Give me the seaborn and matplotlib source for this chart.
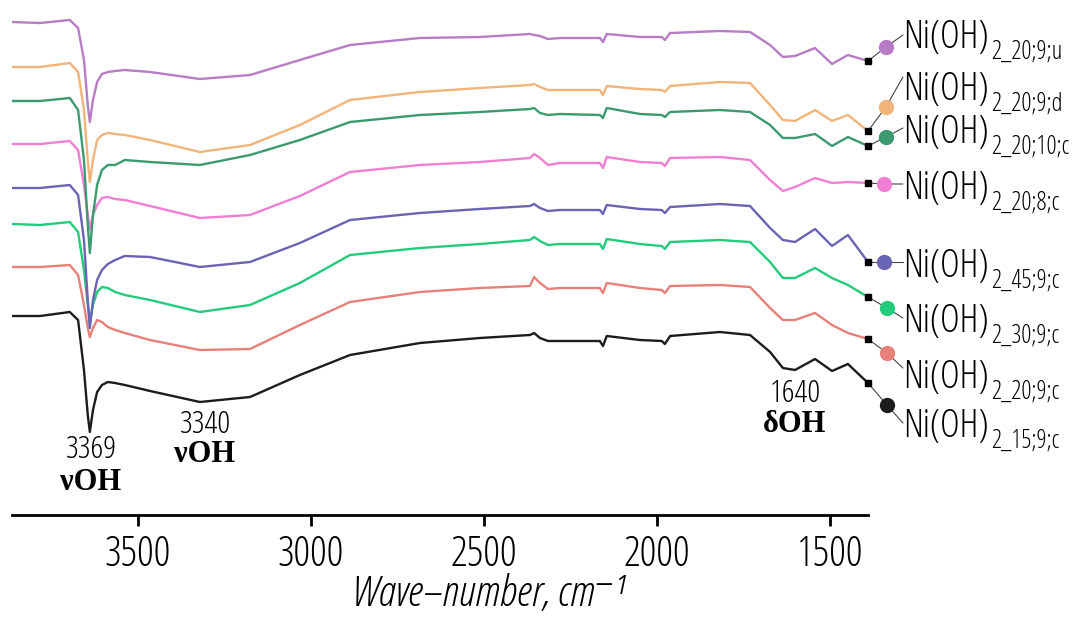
import numpy as np
import pandas as pd
import seaborn as sns
import matplotlib.pyplot as plt
from matplotlib.lines import Line2D
from matplotlib import transforms

# ---- data (transmittance, arbitrary offset units) ----
wavenumber = [3864, 3783, 3697, 3673, 3656, 3645, 3639, 3630, 3618, 3604,
              3587, 3566, 3538, 3465, 3321, 3176, 3032, 2887, 2685, 2512,
              2367, 2355, 2338, 2315, 2280, 2165, 2156, 2145, 2049, 1986,
              1977, 1962, 1818, 1731, 1673, 1636, 1601, 1543, 1494, 1448, 1390]

t_15_9_c = [199, 199, 203, 195, 145, 100, 83, 105, 123, 130, 133, 132, 130, 124, 113, 118, 140, 160, 172, 177,
            180, 182, 177, 174, 174, 174, 169, 179, 175, 174, 171, 179, 183, 180, 163, 147, 145, 156, 144, 151, 132]
t_20_9_c = [248, 248, 250, 240, 210, 187, 178, 187, 195, 193, 188, 185, 182, 175, 165, 166, 190, 213, 223, 227,
            229, 238, 232, 226, 227, 227, 222, 232, 227, 225, 222, 229, 230, 228, 207, 195, 195, 202, 190, 182, 176]
t_30_9_c = [291, 290, 293, 283, 245, 210, 192, 210, 223, 228, 227, 223, 220, 215, 203, 210, 232, 260, 267, 271,
            275, 278, 274, 270, 271, 271, 266, 276, 271, 269, 266, 273, 275, 273, 253, 237, 237, 247, 237, 230, 218]
t_45_9_c = [327, 327, 330, 320, 275, 215, 187, 215, 235, 245, 251, 255, 259, 258, 248, 253, 272, 295, 302, 306,
            309, 311, 307, 304, 305, 305, 301, 310, 306, 305, 302, 308, 311, 309, 287, 275, 273, 286, 269, 280, 253]
t_20_8_c = [371, 371, 374, 365, 330, 300, 285, 300, 310, 317, 318, 316, 315, 309, 297, 300, 319, 343, 350, 353,
            357, 361, 357, 350, 352, 352, 347, 358, 353, 352, 349, 357, 358, 355, 335, 324, 328, 337, 332, 333, 332]
t_20_10_c = [414, 414, 417, 405, 355, 290, 262, 300, 330, 345, 350, 350, 355, 353, 350, 360, 375, 393, 400, 403,
             406, 407, 402, 400, 401, 400, 397, 407, 401, 400, 398, 403, 405, 403, 390, 377, 377, 381, 369, 378, 369]
t_20_9_d = [448, 448, 452, 443, 405, 355, 333, 355, 375, 380, 382, 381, 380, 375, 363, 370, 390, 415, 423, 427,
            430, 431, 428, 425, 425, 425, 420, 429, 426, 425, 423, 429, 433, 432, 410, 395, 394, 405, 394, 400, 384]
t_20_9_u = [493, 492, 495, 487, 455, 410, 393, 415, 433, 441, 443, 444, 445, 443, 436, 440, 455, 470, 477, 478,
            481, 480, 479, 476, 477, 477, 473, 481, 478, 478, 475, 482, 484, 483, 470, 458, 459, 467, 451, 460, 454]

samples = ["2_15;9;c", "2_20;9;c", "2_30;9;c", "2_45;9;c",
           "2_20;8;c", "2_20;10;c", "2_20;9;d", "2_20;9;u"]
series = [t_15_9_c, t_20_9_c, t_30_9_c, t_45_9_c, t_20_8_c, t_20_10_c, t_20_9_d, t_20_9_u]
colors = ["#1c1c1c", "#e8807a", "#22cc7a", "#6a64b4", "#f07ed2", "#3c9a6e", "#f2b47a", "#b87cc6"]

xticks = [3500, 3000, 2500, 2000, 1500]
peaks = [("3369", "νOH"), ("3340", "νOH"), ("1640", "δOH")]

# ---- figure ----
sns.set_style("white")
plt.rcParams["font.family"] = ["Open Sans", "DejaVu Sans"]
plt.rcParams["font.stretch"] = "condensed"
plt.rcParams["font.weight"] = 300
plt.rcParams["text.color"] = "black"
plt.rcParams["axes.labelcolor"] = "black"
plt.rcParams["xtick.color"] = "black"

W, H = 1084, 617
fig = plt.figure(figsize=(W / 100, H / 100), dpi=100)
ax = fig.add_axes([12 / W, 102 / H, 856 / W, 515 / H])

df = pd.DataFrame({
    "wn": wavenumber * len(samples),
    "T": sum(series, []),
    "sample": np.repeat(samples, len(wavenumber)),
})
sns.lineplot(data=df, x="wn", y="T", hue="sample", hue_order=samples,
             palette=dict(zip(samples, colors)), estimator=None, sort=False,
             lw=1.7, legend=False, ax=ax)

ax.set_xlim(3864, 1390)
ax.set_ylim(0, 515)
for s in ["left", "top", "right"]:
    ax.spines[s].set_visible(False)
ax.spines["bottom"].set_linewidth(2)
ax.spines["bottom"].set_color("black")
ax.set_yticks([])
ax.set_xticks(xticks)
ax.tick_params(axis="x", which="major", labelsize=30, length=0, pad=13)
ax.set_ylabel("")
ax.set_xlabel("Wave–number, cm⁻¹", fontsize=31, fontstyle="italic", labelpad=0)
ax.xaxis.set_label_coords((488 - 12) / 856, -0.113)

# short tick marks below the axis line, drawn at figure level
tick_tr = transforms.blended_transform_factory(ax.transData, fig.transFigure)
for xt in xticks:
    fig.add_artist(Line2D([xt, xt], [102 / H, 91 / H], transform=tick_tr,
                          color="black", lw=2, solid_capstyle="butt", zorder=20))


def px2data(px, py):
    # picture pixel -> data coords (for annotation layout)
    return 3500 - (px - 138) / 0.346, 515 - py


# peak annotations
peak_pos = [(91, 458, 490), (205, 433, 462), (795, 402, 432)]
for (num, lab), (px, b1, b2) in zip(peaks, peak_pos):
    x, y1 = px2data(px, b1)
    _, y2 = px2data(px, b2)
    ax.text(x, y1, num, ha="center", va="baseline", fontsize=23)
    ax.text(x, y2, lab, ha="center", va="baseline", fontsize=22,
            family=["Liberation Serif", "DejaVu Serif"], fontweight="bold", stretch="normal")

# right-hand labels: circle px, circle py, text baseline py, line end py
label_pos = [(887, 405, 437, 423), (887, 353, 388, 368), (887, 308, 332, 318),
             (884, 262, 277, 262), (884, 184, 199, 184), (886, 137, 143, 128),
             (886, 107, 100, 77), (886, 47, 48, 35)]
for samp, vals, col, (cx, cy, tb, ly) in zip(samples, series, colors, label_pos):
    x0, y0 = wavenumber[-1], vals[-1]
    xc, yc = px2data(cx, cy)
    xt, yl = px2data(903, ly)
    _, yb = px2data(903, tb)
    ax.plot([x0, xc, xt], [y0, yc, yl], color="#444444", lw=0.8, clip_on=False, zorder=3)
    ax.plot([x0], [y0], marker="s", color="black", ms=4, clip_on=False, zorder=4)
    ax.plot([xc], [yc], marker="o", color=col, ms=10, clip_on=False, zorder=5)
    t = ax.text(xt, yb, "Ni(OH)", fontsize=27, ha="left", va="baseline")
    ax.annotate(samp, xy=(1, 0), xycoords=t, xytext=(2, -1), textcoords="offset points",
                fontsize=18, ha="left", va="baseline")

fig.savefig("out.png", dpi=100)
